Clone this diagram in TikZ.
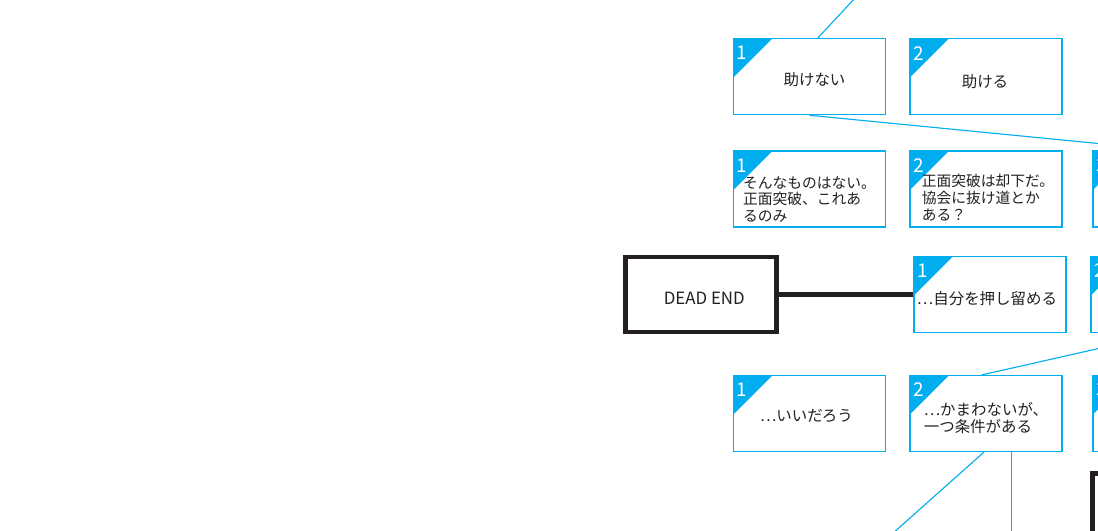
\documentclass[tikz,border=0pt]{standalone}
\usepackage{fontspec}
\setmainfont{Noto Sans CJK JP}
\usepackage{xcolor}
\usetikzlibrary{positioning,calc}
\definecolor{pickblue}{RGB}{0,174,239}
\definecolor{inkblack}{RGB}{35,31,32}

\begin{document}
\begin{tikzpicture}[x=0.025cm, y=-0.025cm,
    choice/.style={draw=pickblue, line width=0.8pt, minimum width=3.8cm, minimum height=1.9cm, inner sep=0,
        path picture={\fill [pickblue] (path picture bounding box.north west) -- ++(0.97cm,0) -- ++(-0.97cm,-0.97cm) -- cycle;}},
    num/.style={text=white, font=\fontsize{13.5}{14}\selectfont, inner sep=0},
    say/.style={text=inkblack, font=\fontsize{11}{12}\selectfont, inner sep=0, align=left},
    small/.style={font=\fontsize{10.5}{12}\selectfont},
    deadend/.style={draw=inkblack, line width=3.5pt, minimum width=3.775cm, minimum height=1.875cm, inner sep=0},
    link/.style={draw=pickblue, line width=0.8pt}]
    \useasboundingbox (0,0) rectangle (1098,531);
    \clip (0,0) rectangle (1098,531);

    % choice boxes with their corner number
    \foreach \nm/\x/\y/\k in {r1a/809.5/76.7/1, r1b/986/76.7/2,
        r2a/809.5/189/1, r2b/986/189/2, r2c/1169/189/3,
        r3b/990/294.5/1, r3c/1167/294.5/2,
        r4a/809.5/413.5/1, r4b/986/413.5/2, r4c/1169/413.5/3} {
        \node [choice] (\nm) at (\x,\y) {};
        \node [num] (\nm-k) at ([shift={(9,15)}]\nm.north west) {\k};
    }

    \node [say] (t1a) at ([shift={(5,3)}]r1a.center) {助けない};
    \node [say] (t1b) at ([shift={(-1,5)}]r1b.center) {助ける};
    \node [say, small] (t2a) at ([shift={(0,10.5)}]r2a.center) {そんなものはない。\\正面突破、これあ\\るのみ};
    \node [say, small] (t2b) at ([shift={(2,9)}]r2b.center) {正面突破は却下だ。\\協会に抜け道とか\\ある？};
    \node [say] (t3b) at ([shift={(-3,4)}]r3b.center) {…自分を押し留める};
    \node [say] (t4a) at ([shift={(-3,2.5)}]r4a.center) {…いいだろう};
    \node [say] (t4b) at ([shift={(0,5)}]r4b.center) {…かまわないが、\\一つ条件がある};

    % dead ends
    \node [deadend] (dead) at (701.3,294.5) {};
    \node [say, font=\fontsize{12}{12}\selectfont] (tdead) at ([shift={(3,4)}]dead.center) {DEAD END};
    \node [deadend] (dead2) at (1168,511) {}; % cut off at the edge

    % connectors
    \coordinate (up) at (888.9,-38.3);
    \coordinate (down1) at (850.5,571);
    \coordinate (down2) at (1011.7,571);
    \draw [link] ([xshift=0.205cm]r1a.north) -- (up);
    \draw [link] (r1a.south) -- (r2c.north);
    \draw [inkblack, line width=3.5pt] (dead.east) -- (r3b.west);
    \draw [link] ([xshift=-0.11cm]r4b.north) -- (r3c.south);
    \draw [link] ([xshift=-0.05cm]r4b.south) -- (down1);
    \draw [link] (r4b.south -| down2) -- (down2);
\end{tikzpicture}
\end{document}
